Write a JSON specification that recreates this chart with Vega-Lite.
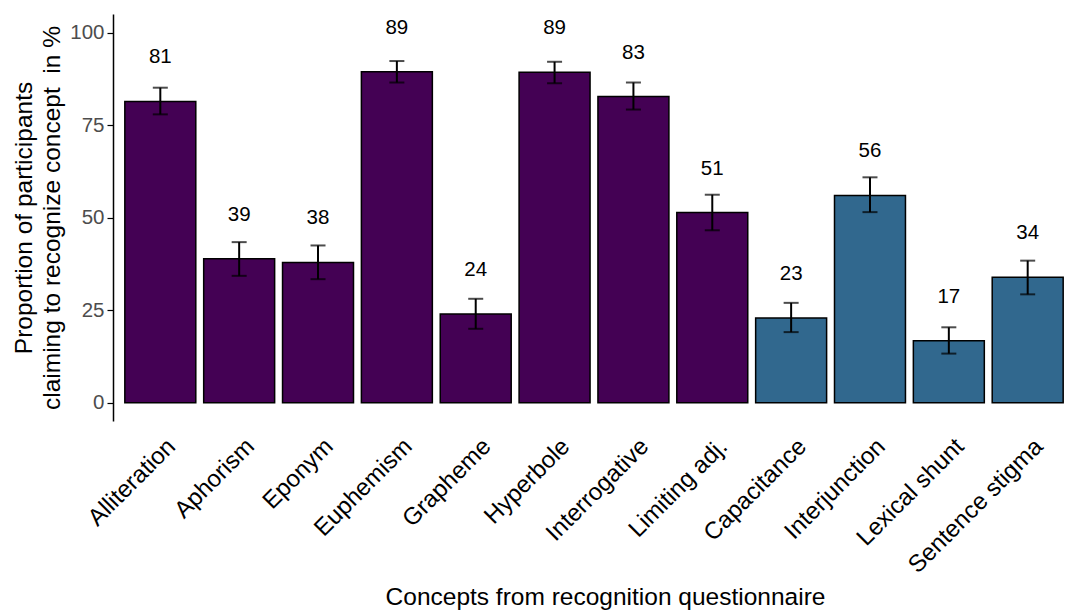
{
  "$schema": "https://vega.github.io/schema/vega-lite/v6.json",
  "width": 962,
  "height": 407,
  "autosize": {"type": "none"},
  "padding": {"left": 113, "top": 14, "right": 0, "bottom": 191},
  "background": "white",
  "config": {
    "font": "Liberation Sans",
    "view": {"stroke": null},
    "axis": {"grid": false, "titleFontWeight": "normal", "titleColor": "black", "titleFont": "Liberation Sans", "labelFont": "Liberation Sans"}
  },
  "data": {
    "values": [
      {"concept": "Alliteration", "type": "real", "pct": 81.4, "lo": 77.9, "hi": 85.1},
      {"concept": "Aphorism", "type": "real", "pct": 38.9, "lo": 34.3, "hi": 43.4},
      {"concept": "Eponym", "type": "real", "pct": 37.9, "lo": 33.4, "hi": 42.5},
      {"concept": "Euphemism", "type": "real", "pct": 89.4, "lo": 86.5, "hi": 92.3},
      {"concept": "Grapheme", "type": "real", "pct": 24.0, "lo": 20.0, "hi": 28.1},
      {"concept": "Hyperbole", "type": "real", "pct": 89.3, "lo": 86.3, "hi": 92.1},
      {"concept": "Interrogative", "type": "real", "pct": 82.7, "lo": 79.2, "hi": 86.5},
      {"concept": "Limiting adj.", "type": "real", "pct": 51.4, "lo": 46.6, "hi": 56.2},
      {"concept": "Capacitance", "type": "fake", "pct": 22.9, "lo": 19.1, "hi": 27.0},
      {"concept": "Interjunction", "type": "fake", "pct": 56.0, "lo": 51.5, "hi": 60.9},
      {"concept": "Lexical shunt", "type": "fake", "pct": 16.8, "lo": 13.3, "hi": 20.4},
      {"concept": "Sentence stigma", "type": "fake", "pct": 33.9, "lo": 29.3, "hi": 38.4}
    ]
  },
  "encoding": {
    "x": {
      "field": "concept",
      "type": "nominal",
      "sort": null,
      "scale": {"paddingInner": 0.1, "paddingOuter": 0.15},
      "axis": {
        "title": "Concepts from recognition questionnaire",
        "titleFontSize": 24.5,
        "titleX": 492,
        "titleY": 183,
        "titleBaseline": "alphabetic",
        "labelAngle": -45,
        "labelAlign": "right",
        "labelBaseline": "top",
        "labelFontSize": 24,
        "labelColor": "black",
        "labelPadding": 13,
        "labelOffset": 3,
        "labelLimit": 400,
        "domain": false,
        "ticks": false
      }
    }
  },
  "layer": [
    {
      "mark": {"type": "bar", "stroke": "black", "strokeWidth": 1.5},
      "encoding": {
        "y": {
          "field": "pct",
          "type": "quantitative",
          "scale": {"domain": [-4.9, 105], "nice": false, "zero": false},
          "axis": {
            "title": ["Proportion of participants", "claiming to recognize concept\u00a0 in %"],
            "titleFontSize": 24.5,
            "titleLineHeight": 28,
            "titlePadding": 5,
            "values": [0, 25, 50, 75, 100],
            "labelFontSize": 20.5,
            "labelColor": "#4D4D4D",
            "labelPadding": 3,
            "tickColor": "black",
            "tickSize": 6,
            "tickWidth": 1.2,
            "domainColor": "black",
            "domainWidth": 1.5
          }
        },
        "y2": {"datum": 0},
        "color": {
          "field": "type",
          "type": "nominal",
          "scale": {"domain": ["real", "fake"], "range": ["#440154", "#31688E"]},
          "legend": null
        }
      }
    },
    {
      "mark": {"type": "rule", "color": "black", "strokeWidth": 2},
      "encoding": {
        "y": {"field": "lo", "type": "quantitative"},
        "y2": {"field": "hi"}
      }
    },
    {
      "mark": {"type": "tick", "color": "black", "thickness": 2, "size": 15, "orient": "horizontal"},
      "encoding": {"y": {"field": "lo", "type": "quantitative"}}
    },
    {
      "mark": {"type": "tick", "color": "black", "thickness": 2, "size": 15, "orient": "horizontal"},
      "encoding": {"y": {"field": "hi", "type": "quantitative"}}
    },
    {
      "mark": {"type": "text", "fontSize": 20.5, "color": "black", "dy": -44, "baseline": "middle", "align": "center"},
      "encoding": {
        "y": {"field": "pct", "type": "quantitative"},
        "text": {"field": "pct", "type": "quantitative", "format": ".0f"}
      }
    }
  ]
}
